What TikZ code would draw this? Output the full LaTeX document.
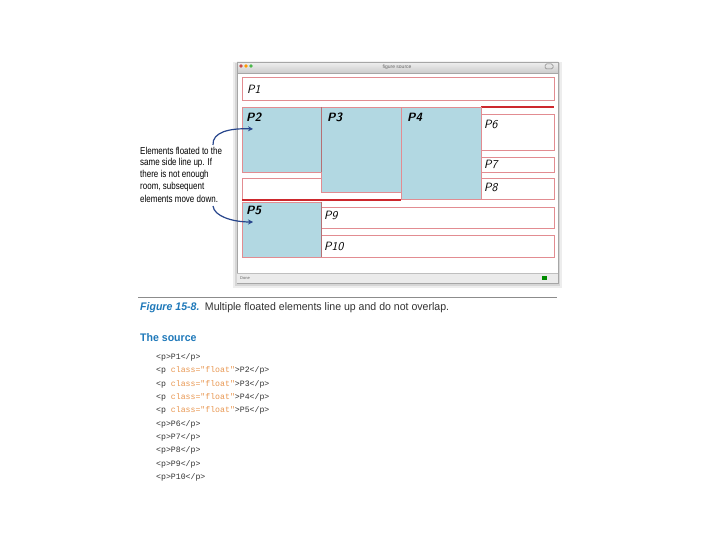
\documentclass[tikz,border=0pt]{standalone}
\usepackage{fontspec}
\setmainfont{Liberation Sans}
\newfontfamily\narrowfont[FakeStretch=0.8]{Liberation Sans}
\newfontfamily\capfont[FakeStretch=0.96]{Liberation Sans}
\newfontfamily\codefont{Liberation Mono}
\usetikzlibrary{arrows.meta}
\definecolor{floatblue}{RGB}{178,216,226}
\definecolor{thinred}{RGB}{226,140,145}
\definecolor{thickred}{RGB}{205,40,45}
\definecolor{capblue}{RGB}{30,120,185}
\definecolor{arrowblue}{RGB}{40,70,140}
\definecolor{codeorange}{RGB}{232,150,80}
\definecolor{codegray}{RGB}{50,50,50}
\tikzset{
  pbox/.style={draw=thinred, line width=0.6pt},
  fbox/.style={draw=thinred, fill=floatblue, line width=0.6pt},
  plabel/.style={anchor=west, inner sep=0pt, font=\fontsize{12}{12}\selectfont\sffamily\itshape},
  flabel/.style={anchor=west, inner sep=0pt, font=\fontsize{12}{12}\selectfont\sffamily\bfseries\itshape},
  thickline/.style={draw=thickred, line width=1.3pt},
  code/.style={anchor=west, inner sep=0pt, font=\codefont\fontsize{8.2}{8.2}\selectfont, text=codegray},
  note/.style={anchor=west, inner sep=0pt, font=\narrowfont\fontsize{10}{10}\selectfont, text=black},
  callout/.style={draw=arrowblue, line width=1.2pt, -{Stealth[length=5pt,width=5pt]}}
}
\begin{document}
\begin{tikzpicture}[x=1pt,y=-1pt]
\useasboundingbox (0,0) rectangle (720,540);
% window shadow and frame
\fill[black!7] (233,62) rectangle (562,288);
\fill[black!16] (235,63) rectangle (560,286);
\fill[white] (237,62) rectangle (558,283);
\shade[top color=black!6, bottom color=black!20] (237,62) rectangle (558,73);
\draw[black!35, line width=0.4pt] (237,62) rectangle (558,283);
\draw[black!35, line width=0.4pt] (237,73) -- (558,73);
\fill[red!70!black!70] (241,66) circle (1.8);
\fill[orange!80!yellow] (246,66) circle (1.8);
\fill[green!60!black!70] (251,66) circle (1.8);
\draw[black!50, line width=0.5pt, rounded corners=1.5pt] (545,64) rectangle (553,69);
\node[inner sep=0pt, font=\fontsize{5}{5}\selectfont, text=black!60] (title) at (397,67.5) {figure source};
% status bar
\fill[black!8] (237,273) rectangle (558,283);
\draw[black!25, line width=0.4pt] (237,273) -- (558,273);
\node[anchor=west, inner sep=0pt, font=\fontsize{4}{4}\selectfont, text=black!60] (status) at (240,278) {Done};
\fill[green!55!black] (542,276) rectangle (547,280);

% non-floated paragraphs
\draw[pbox] (242,77) rectangle (554,100);
\node[plabel] (p1) at (247,89) {P1};
\draw[thickline] (481,107) -- (554,107);
\draw[pbox] (481,114) rectangle (554,150);
\node[plabel] (p6) at (484,124) {P6};
\draw[pbox] (481,157) rectangle (554,172);
\node[plabel] (p7) at (484,164.5) {P7};
\draw[pbox] (242,178) rectangle (554,199);
\node[plabel] (p8) at (484,187) {P8};
\draw[pbox] (242,207) rectangle (554,228);
\node[plabel] (p9) at (324,215) {P9};
\draw[pbox] (242,235) rectangle (554,257);
\node[plabel] (p10) at (324,246) {P10};
\draw[thickline] (242,200) -- (401,200);

% floated paragraphs
\draw[fbox] (242,107) rectangle (321,172);
\draw[fbox] (321,107) rectangle (401,192);
\draw[fbox] (401,107) rectangle (481,199);
\draw[fbox] (242,202) rectangle (321,257);
\draw[thinred!80!black, line width=0.7pt] (321,107) -- (321,172);
\draw[thinred!80!black, line width=0.7pt] (321,202) -- (321,257);
\node[flabel] (p2) at (246,117) {P2};
\node[flabel] (p3) at (327,117) {P3};
\node[flabel] (p4) at (407,117) {P4};
\node[flabel] (p5) at (246,210) {P5};

% annotation
\node[note] (n1) at (140,151) {Elements floated to the};
\node[note] (n2) at (140,163) {same side line up. If};
\node[note] (n3) at (140,175) {there is not enough};
\node[note] (n4) at (140,187) {room, subsequent};
\node[note] (n5) at (140,198.5) {elements move down.};
\coordinate (a1s) at (213,145);
\coordinate (a1e) at (253,129);
\coordinate (a2s) at (213,206);
\coordinate (a2e) at (253,222);
\draw[callout] (a1s) .. controls (212,132) and (230,128) .. (a1e);
\draw[callout] (a2s) .. controls (214,216) and (232,222) .. (a2e);

% caption
\draw[black!45, line width=0.5pt] (138,297) -- (557,297);
\node[anchor=west, inner sep=0pt, font=\capfont\fontsize{11}{11}\selectfont] (cap) at (140,307.5)
  {\textcolor{capblue}{\bfseries\itshape Figure 15-8.}\enspace\textcolor{codegray}{Multiple floated elements line up and do not overlap.}};
\node[anchor=west, inner sep=0pt, font=\capfont\fontsize{11}{11}\selectfont\bfseries, text=capblue] (src) at (140,338) {The source};

% code
\node[code] (c1) at (156,357.5) {<p>P1</p>};
\node[code] (c2) at (156,370.8) {<p \textcolor{codeorange}{class="float"}>P2</p>};
\node[code] (c3) at (156,384.1) {<p \textcolor{codeorange}{class="float"}>P3</p>};
\node[code] (c4) at (156,397.4) {<p \textcolor{codeorange}{class="float"}>P4</p>};
\node[code] (c5) at (156,410.7) {<p \textcolor{codeorange}{class="float"}>P5</p>};
\node[code] (c6) at (156,424.0) {<p>P6</p>};
\node[code] (c7) at (156,437.3) {<p>P7</p>};
\node[code] (c8) at (156,450.6) {<p>P8</p>};
\node[code] (c9) at (156,463.9) {<p>P9</p>};
\node[code] (c10) at (156,477.2) {<p>P10</p>};
\end{tikzpicture}
\end{document}
